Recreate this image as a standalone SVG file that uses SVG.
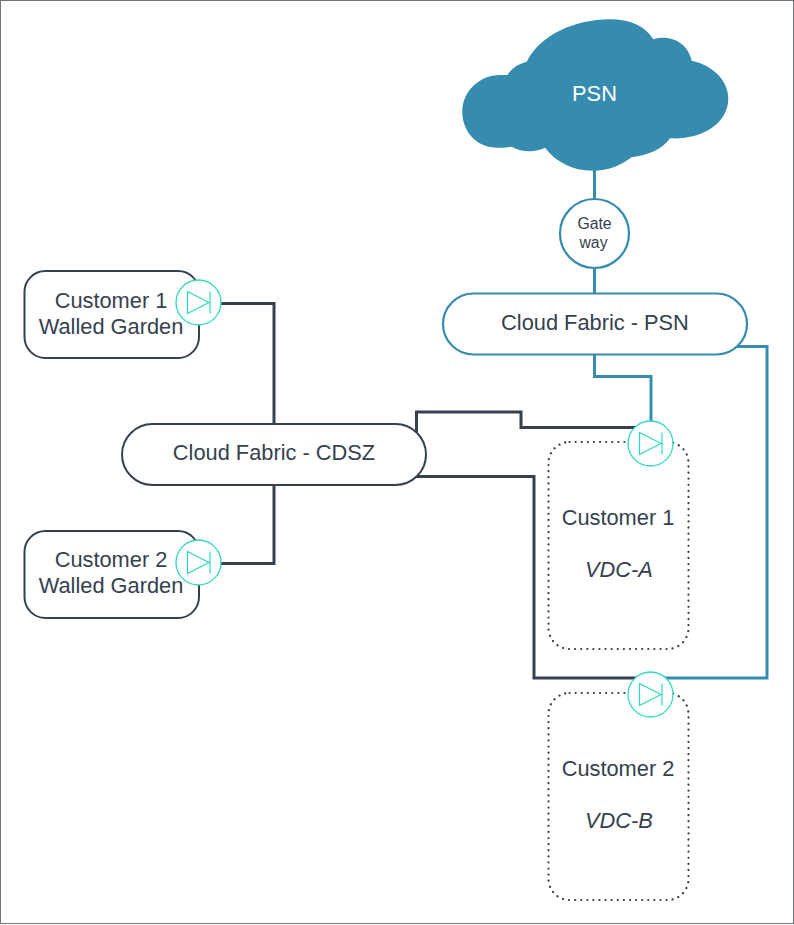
<svg xmlns="http://www.w3.org/2000/svg" width="794" height="925" viewBox="0 0 794 925">
<defs>
<g id="diode"><circle cx="0" cy="0" r="22.5" fill="#fff" stroke="#2fd9c0" stroke-width="1.3"/><path d="M-11-11V11L10.5 0ZM11.500-11V11" fill="none" stroke="#2fd9c0" stroke-width="1.2"/></g>
</defs>
<style>
text{font-family:"Liberation Sans",Arial,sans-serif;font-size:21.800px;fill:#35414f;text-anchor:middle}
.dark{fill:#fff;stroke:#35414f;stroke-width:2}
.blue{fill:#fff;stroke:#368cae;stroke-width:2.200}
.dot{fill:none;stroke:#35414f;stroke-width:2.200;stroke-dasharray:.1 6;stroke-linecap:round}
.cd{fill:none;stroke:#35414f;stroke-width:3}
.cb{fill:none;stroke:#368cae;stroke-width:3}
</style>
<rect x=".5" y=".5" width="793" height="923" fill="#fff" stroke="#70757a"/>
<g id="connectors">
<path class="cb" d="M594.500 165V295M594.500 350V376.500H651V425"/>
<path class="cb" d="M735 346.500H767V678H650"/>
<path class="cd" d="M210 303.500H274V563.500H210"/>
<path class="cd" d="M416.500 435V412H521V427.500H640"/>
<path class="cd" d="M416 476.500H534V678H640"/>
</g>
<g id="vdc-a"><rect class="dot" x="548.500" y="442" width="140" height="207" rx="21"/><text x="618" y="525">Customer 1</text><text x="619" y="577" font-style="italic">VDC-A</text></g>
<g id="vdc-b"><rect class="dot" x="548.500" y="693" width="140" height="207" rx="21"/><text x="618" y="776">Customer 2</text><text x="619" y="828" font-style="italic">VDC-B</text></g>
<g id="psn"><path fill="#368cae" d="M526.700 61.700C540 35 575 19.300 610 19.300C630 19.300 645 26 653.300 39.300C672 34 688 44 691.700 60.700C712 65 728.300 80 728.300 98.300C728.300 125 700 140 670 138.300C662 150 648 155 631.700 157.300C620 166 608 170.700 593.300 170.700C572 170.700 556 162 545 147.700C535 152.500 522 152.500 511.700 146.700C505 148 495 148 490 147C472 143 462.300 128 462.300 111.700C462.300 91 480 75 500 75L507.300 75C512 68 518 64 526.700 61.700Z"/><text x="594.500" y="101" style="fill:#fff">PSN</text></g>
<g id="gateway"><circle class="blue" cx="594.500" cy="233.500" r="34.500"/><text x="594.500" y="229" style="font-size:15.800px">Gate</text><text x="593.500" y="248" style="font-size:15.800px">way</text></g>
<g id="fabric-psn"><rect class="blue" x="443" y="293.500" width="304" height="61" rx="30.500"/><text x="595" y="330">Cloud Fabric - PSN</text></g>
<g id="fabric-cdsz"><rect class="dark" x="122" y="424" width="304" height="61" rx="30.500"/><text x="274" y="460">Cloud Fabric - CDSZ</text></g>
<g id="wg1"><rect class="dark" x="24.500" y="271" width="174.500" height="87" rx="21"/><text x="111" y="308">Customer 1</text><text x="111" y="334">Walled Garden</text></g>
<g id="wg2"><rect class="dark" x="24.500" y="531" width="174.500" height="87" rx="21"/><text x="111" y="567">Customer 2</text><text x="111" y="593">Walled Garden</text></g>
<use id="diode-wg1" href="#diode" x="198.500" y="302.500"/>
<use id="diode-wg2" href="#diode" x="198.500" y="562.500"/>
<use id="diode-a" href="#diode" x="650.500" y="443.500"/>
<use id="diode-b" href="#diode" x="650.500" y="694.500"/>
</svg>
